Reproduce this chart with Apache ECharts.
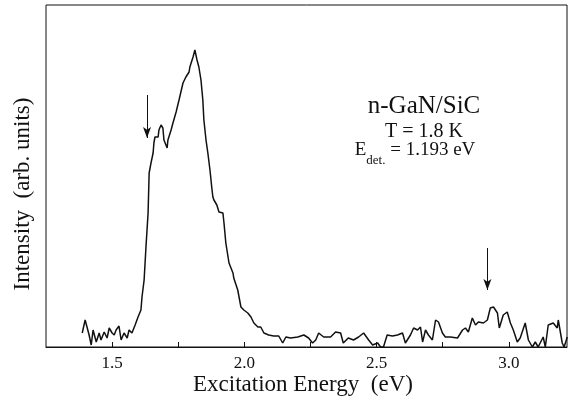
<!DOCTYPE html>
<html>
<head>
<meta charset="utf-8">
<script src="https://cdn.jsdelivr.net/npm/echarts@6/dist/echarts.min.js"></script>
<style>html,body{margin:0;padding:0;background:#fff;}#c{width:569px;height:413px;}</style>
</head>
<body>
<div id="c"></div>
<script>
const energy = [1.387,1.398,1.413,1.421,1.428,1.440,1.451,1.458,1.470,1.481,1.489,1.500,1.508,1.515,1.526,1.534,1.545,1.557,1.564,1.575,1.587,1.598,1.609,1.613,1.621,1.628,1.636,1.640,1.647,1.655,1.658,1.662,1.674,1.677,1.685,1.692,1.696,1.708,1.711,1.723,1.730,1.742,1.753,1.768,1.779,1.791,1.794,1.806,1.813,1.821,1.828,1.836,1.843,1.847,1.855,1.862,1.870,1.877,1.881,1.885,1.896,1.904,1.919,1.923,1.930,1.942,1.957,1.960,1.975,1.987,1.998,2.013,2.025,2.036,2.051,2.062,2.074,2.092,2.111,2.130,2.145,2.157,2.175,2.202,2.225,2.243,2.258,2.270,2.281,2.300,2.326,2.345,2.364,2.374,2.393,2.413,2.432,2.451,2.470,2.485,2.504,2.515,2.526,2.540,2.560,2.579,2.598,2.609,2.628,2.640,2.655,2.666,2.674,2.685,2.696,2.711,2.723,2.734,2.749,2.760,2.779,2.806,2.825,2.836,2.847,2.862,2.874,2.885,2.904,2.919,2.930,2.942,2.957,2.964,2.979,2.994,3.006,3.017,3.032,3.043,3.062,3.074,3.089,3.100,3.111,3.130,3.138,3.149,3.168,3.183,3.187,3.202,3.209,3.221];
const intensity = [14,27,12,2,17,5,14,7,15,9,19,14,12,17,21,7,14,9,17,14,22,30,37,50,67,100,134,174,184,194,204,210,210,217,222,219,207,199,207,217,224,235,247,264,270,275,280,290,297,287,280,267,247,227,207,194,177,159,150,147,142,135,134,124,104,84,74,69,57,40,37,34,30,24,20,20,14,12,11,11,4,10,9,10,12,9,4,7,14,10,10,15,14,4,9,7,10,14,7,2,4,0,0,12,11,12,14,4,12,19,17,20,5,17,12,7,27,25,14,10,10,9,17,19,15,29,22,25,24,27,39,40,34,19,32,35,24,17,5,9,24,7,0,5,0,10,0,22,24,19,27,4,0,10];
const xTickLabels = ['1.5','2.0','2.5','3.0'];
const arrows = [[1.632,252,209],[2.919,99,57]];

const chart = echarts.init(document.getElementById('c'));
const serif = '"Liberation Serif", "DejaVu Serif", serif';
chart.setOption({
  animation:false,
  backgroundColor:'#fff',
  grid:{left:46,right:2,top:5,bottom:66,show:true,borderColor:'#111',borderWidth:1},
  xAxis:{type:'value',min:1.25,max:3.22,interval:0.25,
    axisLine:{show:true,lineStyle:{color:'#111',width:1}},
    axisTick:{show:true,inside:true,length:5,lineStyle:{color:'#111'}},
    splitLine:{show:false},
    axisLabel:{showMinLabel:false,showMaxLabel:false,margin:8,color:'#111',fontFamily:serif,fontSize:17,
      formatter:v=>{const s=v.toFixed(1);return (Math.abs(v*2-Math.round(v*2))<1e-6 && xTickLabels.includes(s))?s:'';}}},
  yAxis:{type:'value',min:0,max:342,show:true,axisLine:{show:false},axisTick:{show:false},axisLabel:{show:false},splitLine:{show:false}},
  series:[{type:'line',data:energy.map((e,i)=>[e,intensity[i]]),showSymbol:false,symbol:'none',
    lineStyle:{color:'#111',width:1.5},
    markLine:{silent:true,symbol:['none','arrow'],symbolSize:[6,11],label:{show:false},
      lineStyle:{color:'#111',width:1,type:'solid'},
      data:arrows.map(a=>[{coord:[a[0],a[1]]},{coord:[a[0],a[2]]}])}}],
  graphic:[
    {type:'text',x:424,y:106,style:{text:'n-GaN/SiC',font:'25px '+serif,fill:'#111',align:'center',verticalAlign:'middle'}},
    {type:'text',x:424,y:132,style:{text:'T = 1.8 K',font:'20px '+serif,fill:'#111',align:'center',verticalAlign:'middle'}},
    {type:'text',x:415,y:150,style:{text:'{e|E}{s|det.}{e| = 1.193 eV}',align:'center',verticalAlign:'middle',fill:'#111',
      rich:{e:{fontFamily:serif,fontSize:19,fill:'#111',verticalAlign:'bottom',lineHeight:20},s:{fontFamily:serif,fontSize:13,fill:'#111',verticalAlign:'bottom',lineHeight:13,padding:[0,0,-7,0]}}}},
    {type:'text',x:303,y:385,style:{text:'Excitation Energy  (eV)',font:'23px '+serif,fill:'#111',align:'center',verticalAlign:'middle'}},
    {type:'text',x:23,y:194,rotation:Math.PI/2,style:{text:'Intensity  (arb. units)',font:'23px '+serif,fill:'#111',align:'center',verticalAlign:'middle'}}
  ]
});
</script>
</body>
</html>
